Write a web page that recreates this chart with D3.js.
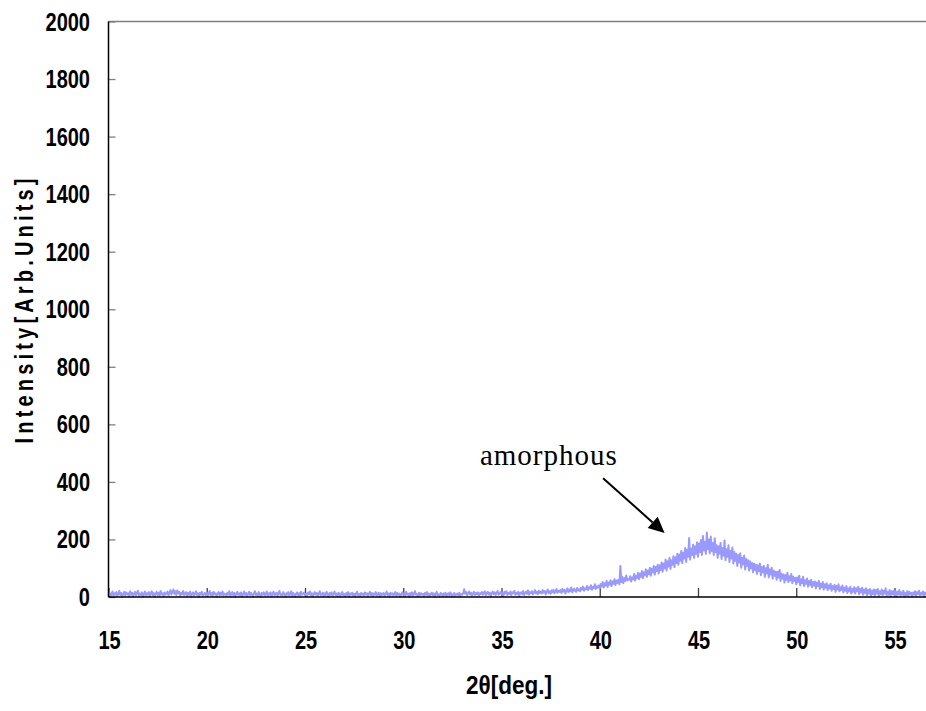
<!DOCTYPE html>
<html>
<head>
<meta charset="utf-8">
<script src="https://cdn.jsdelivr.net/npm/d3@7"></script>
<style>
  body { margin: 0; background: #fff; }
  svg { display: block; }
  .tick-label { font-family: "Liberation Sans", Arial, sans-serif; font-weight: bold; font-size: 25px; fill: #000; }
</style>
</head>
<body>
<div id="chart"></div>
<script>
// XRD scan, 2theta from 15.00 deg in 0.05 deg steps (one row per degree)
const angleStart = 15.0;
const angleStep = 0.05;
const intensity = [
  6,15,2,11,19,4,13,8,17,3,12,21,7,14,1,10,18,5,16,9,
  13,3,20,8,15,2,11,18,6,14,22,4,12,7,16,1,10,19,5,13,
  8,17,3,12,20,6,14,2,11,18,7,15,4,21,9,13,3,16,8,12,
  19,5,14,24,9,17,26,11,20,7,23,13,18,4,15,10,21,6,12,17,
  3,14,8,19,2,12,16,5,11,20,7,13,1,15,9,18,4,10,14,6,
  16,4,12,21,7,14,3,18,9,13,2,11,17,6,15,8,19,5,12,10,
  4,15,9,20,3,12,17,6,14,1,11,18,8,13,5,16,2,10,19,7,
  14,3,11,18,6,15,9,2,13,20,7,12,4,17,10,1,14,8,16,5,
  11,19,4,13,8,16,2,12,18,6,10,15,3,14,21,7,11,5,17,9,
  2,13,8,17,5,11,20,3,14,9,1,12,16,6,13,4,18,8,11,15,
  7,12,3,16,10,19,5,13,2,11,17,8,14,4,12,20,6,10,15,3,
  13,6,18,9,1,14,8,16,4,11,19,7,12,3,15,10,2,13,17,5,
  10,3,14,7,17,2,12,9,15,5,11,1,13,18,6,10,4,14,8,12,
  5,16,9,13,2,11,18,7,14,3,12,8,17,4,10,15,1,13,6,11,
  14,4,10,19,7,12,2,15,9,13,5,11,17,3,14,8,12,1,10,16,
  6,13,3,18,9,11,1,14,7,16,4,12,20,8,10,2,15,6,13,9,
  11,2,14,8,17,5,12,3,10,15,7,13,1,11,18,6,9,4,14,10,
  3,12,7,15,2,10,13,5,16,8,1,11,14,4,9,12,6,15,3,10,
  8,14,27,11,17,6,13,19,9,15,4,12,18,7,14,10,16,5,13,11,
  17,8,14,20,6,12,18,9,15,3,13,19,10,16,7,14,21,8,12,17,
  9,15,5,18,12,20,7,14,11,19,6,16,13,21,8,15,10,18,4,14,
  16,10,21,7,15,19,11,23,8,17,13,20,9,16,24,12,18,10,22,14,
  19,12,24,15,21,9,18,26,14,20,11,23,17,25,13,19,28,15,22,18,
  24,14,28,19,25,12,22,30,17,26,20,33,16,24,29,21,18,31,23,27,
  20,32,26,36,22,30,27,38,24,34,29,41,25,35,31,44,28,37,33,40,
  30,45,36,52,33,48,40,56,35,50,43,58,38,54,46,62,42,57,49,60,
  44,108,52,70,48,66,56,75,58,62,60,72,54,68,62,80,57,74,66,84,
  62,82,70,90,66,86,76,96,70,92,80,102,74,98,86,108,78,104,90,112,
  82,110,94,120,88,116,100,130,92,124,106,136,98,128,112,142,104,138,118,150,
  112,148,126,160,118,154,134,170,122,164,140,205,130,168,146,182,136,176,150,190,
  140,186,156,198,146,212,162,192,150,224,166,200,152,210,160,188,146,204,156,180,
  136,176,150,188,132,170,144,196,128,166,140,180,122,160,134,172,116,156,126,150,
  108,146,120,152,102,136,114,144,96,132,108,128,92,124,100,118,86,116,94,112,
  80,110,90,116,76,104,86,108,70,100,82,112,68,96,78,102,64,92,74,88,
  60,88,68,94,56,82,64,78,50,76,60,84,52,72,58,80,48,70,56,66,
  44,68,52,74,40,62,48,70,38,58,46,64,36,56,42,60,34,52,40,54,
  30,50,38,56,28,46,34,52,26,44,32,48,24,40,30,46,22,38,28,42,
  18,38,26,44,20,34,24,40,16,32,22,38,14,30,20,36,12,28,18,34,
  12,30,20,36,10,28,16,32,8,26,14,30,6,24,12,28,4,22,10,26,
  4,24,12,28,2,20,10,26,6,22,12,30,4,18,8,24,2,20,10,22,
  6,20,2,18,10,24,4,16,8,22,1,14,6,20,3,18,9,15,2,16,
  8,20,3,17,10,22,5,14,9,19,2,16,7
];
const xTicks = [15, 20, 25, 30, 35, 40, 45, 50, 55];
const yTicks = [0, 200, 400, 600, 800, 1000, 1200, 1400, 1600, 1800, 2000];
const annotation = { text: "amorphous", textX: 33.9, textY: 458, fromX: 40.17, fromY: 413, toX: 43.3, toY: 222 };

const width = 926, height = 711;
const plotLeft = 108.5, plotTop = 21.5, plotBottom = 597;
const narrow = 0.8; // squeeze Liberation Sans into an Arial Narrow look

const svg = d3.select("#chart").append("svg")
  .attr("width", width)
  .attr("height", height);

// axis runs past the right edge of the picture (cropped at 926px)
const x = d3.scaleLinear().domain([15, 60]).range([plotLeft, plotLeft + 45 * 19.65]);
const y = d3.scaleLinear().domain([0, 2000]).range([plotBottom, plotTop]);

const points = intensity.map((v, i) => ({ a: angleStart + i * angleStep, v }));

// top border
svg.append("line")
  .attr("x1", plotLeft).attr("x2", width)
  .attr("y1", plotTop).attr("y2", plotTop)
  .attr("stroke", "#808080").attr("stroke-width", 1.5);

// y axis
const yAxis = svg.append("g")
  .attr("transform", `translate(${plotLeft},0)`)
  .call(d3.axisRight(y).tickValues(yTicks).tickSize(7).tickFormat(""));
yAxis.select(".domain").remove();
yAxis.selectAll(".tick line").attr("stroke", "#808080").attr("stroke-width", 1.3);

svg.selectAll(".ylab")
  .data(yTicks)
  .enter().append("text")
  .attr("class", "tick-label")
  .attr("transform", d => `translate(90,${y(d) + 9}) scale(${narrow},1)`)
  .attr("text-anchor", "end")
  .text(d => d);

// x axis ticks (pointing up into the plot)
const xAxis = svg.append("g")
  .attr("transform", `translate(0,${plotBottom})`)
  .call(d3.axisTop(x).tickValues(xTicks).tickSize(9).tickFormat(""));
xAxis.select(".domain").remove();
xAxis.selectAll(".tick line").attr("stroke", "#404040").attr("stroke-width", 1.3);

svg.selectAll(".xlab")
  .data(xTicks)
  .enter().append("text")
  .attr("class", "tick-label")
  .attr("transform", d => `translate(${x(d) + 1},649) scale(${narrow},1)`)
  .attr("text-anchor", "middle")
  .text(d => d);

// data line
const line = d3.line()
  .x(d => x(d.a))
  .y(d => y(d.v));

svg.append("path")
  .datum(points)
  .attr("fill", "none")
  .attr("stroke", "#9999ff")
  .attr("stroke-width", 2)
  .attr("stroke-linejoin", "round")
  .attr("d", line);

// axis lines on top
svg.append("line")
  .attr("x1", plotLeft).attr("x2", plotLeft)
  .attr("y1", plotTop).attr("y2", plotBottom)
  .attr("stroke", "#000").attr("stroke-width", 1.5);
svg.append("line")
  .attr("x1", plotLeft).attr("x2", width)
  .attr("y1", plotBottom).attr("y2", plotBottom)
  .attr("stroke", "#000").attr("stroke-width", 1.5);

// axis titles
svg.append("text")
  .attr("class", "tick-label")
  .attr("transform", `translate(33,311) rotate(-90) scale(${narrow},1)`)
  .attr("text-anchor", "middle")
  .attr("textLength", 265 / narrow)
  .attr("lengthAdjust", "spacing")
  .text("Intensity[Arb.Units]");

svg.append("text")
  .attr("class", "tick-label")
  .attr("transform", "translate(509,694) scale(0.9,1)")
  .attr("text-anchor", "middle")
  .text("2θ[deg.]");

// annotation
svg.append("text")
  .attr("x", x(annotation.textX))
  .attr("y", y(annotation.textY))
  .attr("font-family", "'Liberation Serif', 'Times New Roman', serif")
  .attr("font-size", 29)
  .style("letter-spacing", "1px")
  .text(annotation.text);

const x1 = x(annotation.fromX), y1 = y(annotation.fromY);
const x2 = x(annotation.toX), y2 = y(annotation.toY);
const ang = Math.atan2(y2 - y1, x2 - x1);
const headLen = 16, headHalf = 7.5;
const bx = x2 - headLen * Math.cos(ang), by = y2 - headLen * Math.sin(ang);

svg.append("line")
  .attr("x1", x1).attr("y1", y1)
  .attr("x2", bx).attr("y2", by)
  .attr("stroke", "#000").attr("stroke-width", 2);

svg.append("polygon")
  .attr("points", [
    [x2, y2],
    [bx + headHalf * Math.sin(ang), by - headHalf * Math.cos(ang)],
    [bx - headHalf * Math.sin(ang), by + headHalf * Math.cos(ang)]
  ].map(p => p.join(",")).join(" "))
  .attr("fill", "#000");
</script>
</body>
</html>
